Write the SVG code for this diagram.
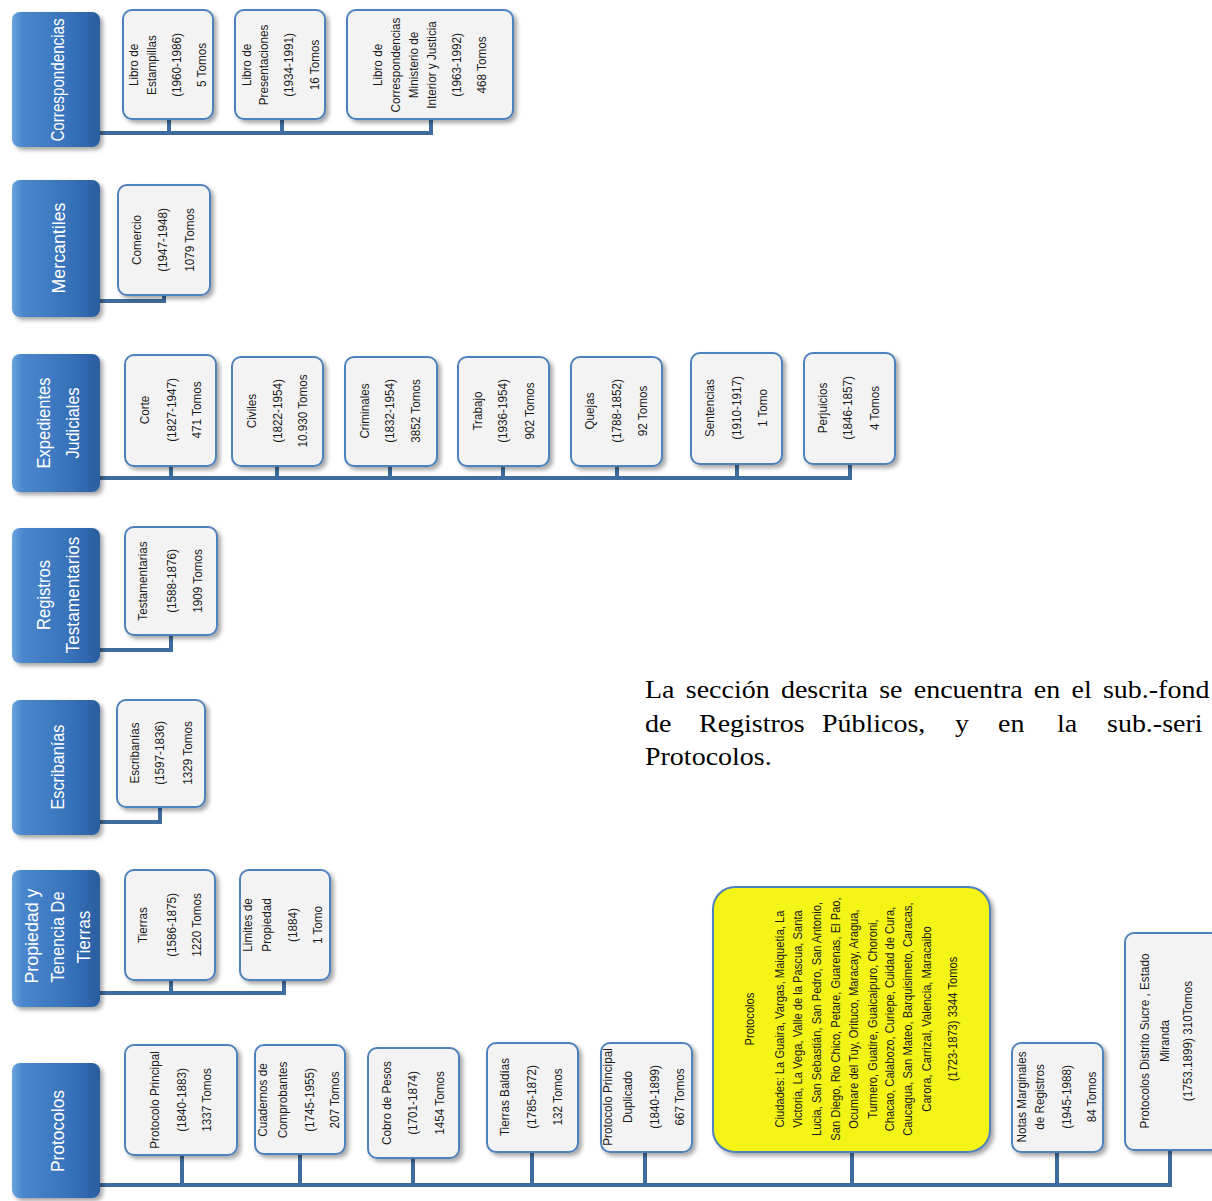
<svg xmlns="http://www.w3.org/2000/svg" width="1212" height="1201" viewBox="0 0 1212 1201">
<defs>
<linearGradient id="blue" x1="0" y1="0" x2="1" y2="0">
<stop offset="0" stop-color="#6aa3e0"/>
<stop offset="0.12" stop-color="#4b87cd"/>
<stop offset="0.7" stop-color="#3570b8"/>
<stop offset="1" stop-color="#2a5d9f"/>
</linearGradient>
<filter id="sh" x="-20%" y="-20%" width="140%" height="140%">
<feDropShadow dx="3" dy="3" stdDeviation="2" flood-color="#000" flood-opacity="0.35"/>
</filter>
</defs>
<style>
.main{fill:url(#blue);filter:url(#sh)}
.leaf{fill:#f3f3f3;stroke:#4f81bd;stroke-width:2;filter:url(#sh)}
.yel{fill:#f4f412;stroke:#4f81bd;stroke-width:2;filter:url(#sh)}
.con{fill:none;stroke:#3f6c9e;stroke-width:4}
.m{font-family:"Liberation Sans",Arial,sans-serif;font-size:19px;fill:#fff;text-anchor:middle}
.t{font-family:"Liberation Sans",Arial,sans-serif;font-size:13px;fill:#1a1a1a;text-anchor:middle}
.p{font-family:"Liberation Serif","Times New Roman",serif;font-size:25px;fill:#000}
</style>

<g id="connectors">
<path class="con" d="M100 133 H433 M169 119 V133 M282 119 V133 M431 119 V133"/>
<path class="con" d="M100 301 H164 V295"/>
<path class="con" d="M100 478 H852 M171 466 V478 M277 466 V478 M390 466 V478 M503 466 V478 M617 466 V478 M737 464 V478 M850 464 V478"/>
<path class="con" d="M100 650 H171 V635"/>
<path class="con" d="M100 822 H160 V807"/>
<path class="con" d="M100 993 H286 M171 980 V993 M284 980 V993"/>
<path class="con" d="M100 1185 H1172 M182 1155 V1185 M300 1154 V1185 M413 1158 V1185 M532 1152 V1185 M645 1152 V1185 M852 1152 V1185 M1057 1152 V1185 M1170 1150 V1185"/>
</g>

<g id="correspondencias">
<rect class="main" x="12" y="12" width="88" height="135" rx="8"/>
<text class="m" transform="translate(0,80) scale(1,0.8) rotate(-90)" x="0" y="64">Correspondencias</text>
</g>
<g id="libro-estampillas">
<rect class="leaf" x="123" y="10" width="90" height="109" rx="9"/>
<text class="t" transform="translate(0,65) scale(1,0.9) rotate(-90)"><tspan x="0" y="138">Libro de</tspan><tspan x="0" y="156">Estampillas</tspan><tspan x="0" y="181">(1960-1986)</tspan><tspan x="0" y="206">5 Tomos</tspan></text>
</g>
<g id="libro-presentaciones">
<rect class="leaf" x="235" y="10" width="90" height="109" rx="9"/>
<text class="t" transform="translate(0,65) scale(1,0.9) rotate(-90)"><tspan x="0" y="251">Libro de</tspan><tspan x="0" y="268">Presentaciones</tspan><tspan x="0" y="293">(1934-1991)</tspan><tspan x="0" y="319">16 Tomos</tspan></text>
</g>
<g id="libro-correspondencias">
<rect class="leaf" x="347" y="10" width="166" height="109" rx="9"/>
<text class="t" transform="translate(0,65) scale(1,0.9) rotate(-90)"><tspan x="0" y="382">Libro de</tspan><tspan x="0" y="400">Correspondencias</tspan><tspan x="0" y="418">Ministerio de</tspan><tspan x="0" y="436">Interior y Justicia</tspan><tspan x="0" y="461">(1963-1992)</tspan><tspan x="0" y="486">468 Tomos</tspan></text>
</g>

<g id="mercantiles">
<rect class="main" x="12" y="180" width="88" height="137" rx="8"/>
<text class="m" transform="rotate(-90)" x="-248" y="65" textLength="91" lengthAdjust="spacingAndGlyphs">Mercantiles</text>
</g>
<g id="comercio">
<rect class="leaf" x="118" y="185" width="92" height="110" rx="9"/>
<text class="t" transform="translate(0,240) scale(1,0.9) rotate(-90)"><tspan x="0" y="141">Comercio</tspan><tspan x="0" y="167">(1947-1948)</tspan><tspan x="0" y="194">1079 Tomos</tspan></text>
</g>

<g id="expedientes">
<rect class="main" x="12" y="354" width="88" height="138" rx="8"/>
<text class="m" transform="rotate(-90)" x="-423" y="50" textLength="91" lengthAdjust="spacingAndGlyphs">Expedientes</text>
<text class="m" transform="rotate(-90)" x="-423" y="79" textLength="71" lengthAdjust="spacingAndGlyphs">Judiciales</text>
</g>
<g id="corte">
<rect class="leaf" x="125" y="355" width="91" height="111" rx="9"/>
<text class="t" transform="translate(0,410) scale(1,0.9) rotate(-90)"><tspan x="0" y="149">Corte</tspan><tspan x="0" y="176">(1827-1947)</tspan><tspan x="0" y="201">471 Tomos</tspan></text>
</g>
<g id="civiles">
<rect class="leaf" x="232" y="357" width="91" height="109" rx="9"/>
<text class="t" transform="translate(0,411) scale(1,0.9) rotate(-90)"><tspan x="0" y="256">Civiles</tspan><tspan x="0" y="282">(1822-1954)</tspan><tspan x="0" y="307">10.930 Tomos</tspan></text>
</g>
<g id="criminales">
<rect class="leaf" x="345" y="357" width="92" height="109" rx="9"/>
<text class="t" transform="translate(0,411) scale(1,0.9) rotate(-90)"><tspan x="0" y="369">Criminales</tspan><tspan x="0" y="394">(1832-1954)</tspan><tspan x="0" y="420">3852 Tomos</tspan></text>
</g>
<g id="trabajo">
<rect class="leaf" x="458" y="357" width="91" height="109" rx="9"/>
<text class="t" transform="translate(0,411) scale(1,0.9) rotate(-90)"><tspan x="0" y="482">Trabajo</tspan><tspan x="0" y="507">(1936-1954)</tspan><tspan x="0" y="534">902 Tomos</tspan></text>
</g>
<g id="quejas">
<rect class="leaf" x="571" y="357" width="91" height="109" rx="9"/>
<text class="t" transform="translate(0,411) scale(1,0.9) rotate(-90)"><tspan x="0" y="594">Quejas</tspan><tspan x="0" y="621">(1788-1852)</tspan><tspan x="0" y="647">92 Tomos</tspan></text>
</g>
<g id="sentencias">
<rect class="leaf" x="691" y="353" width="91" height="111" rx="9"/>
<text class="t" transform="translate(0,408) scale(1,0.9) rotate(-90)"><tspan x="0" y="714">Sentencias</tspan><tspan x="0" y="741">(1910-1917)</tspan><tspan x="0" y="767">1 Tomo</tspan></text>
</g>
<g id="perjuicios">
<rect class="leaf" x="804" y="353" width="91" height="111" rx="9"/>
<text class="t" transform="translate(0,408) scale(1,0.9) rotate(-90)"><tspan x="0" y="827">Perjuicios</tspan><tspan x="0" y="852">(1846-1857)</tspan><tspan x="0" y="879">4 Tomos</tspan></text>
</g>

<g id="registros-testamentarios">
<rect class="main" x="12" y="528" width="88" height="135" rx="8"/>
<text class="m" transform="rotate(-90)" x="-595" y="50" textLength="70" lengthAdjust="spacingAndGlyphs">Registros</text>
<text class="m" transform="rotate(-90)" x="-595" y="79" textLength="117" lengthAdjust="spacingAndGlyphs">Testamentarios</text>
</g>
<g id="testamentarias">
<rect class="leaf" x="125" y="527" width="92" height="108" rx="9"/>
<text class="t" transform="translate(0,581) scale(1,0.9) rotate(-90)"><tspan x="0" y="147">Testamentarias</tspan><tspan x="0" y="176">(1588-1876)</tspan><tspan x="0" y="202">1909 Tomos</tspan></text>
</g>

<g id="escribanias-main">
<rect class="main" x="12" y="700" width="88" height="135" rx="8"/>
<text class="m" transform="rotate(-90)" x="-767" y="64" textLength="85" lengthAdjust="spacingAndGlyphs">Escribanías</text>
</g>
<g id="escribanias">
<rect class="leaf" x="117" y="700" width="88" height="107" rx="9"/>
<text class="t" transform="translate(0,753) scale(1,0.9) rotate(-90)"><tspan x="0" y="139">Escribanías</tspan><tspan x="0" y="164">(1597-1836)</tspan><tspan x="0" y="192">1329 Tomos</tspan></text>
</g>

<g id="propiedad">
<rect class="main" x="12" y="870" width="88" height="137" rx="8"/>
<text class="m" transform="rotate(-90)" x="-936" y="38" textLength="95" lengthAdjust="spacingAndGlyphs">Propiedad y</text>
<text class="m" transform="rotate(-90)" x="-937" y="64" textLength="91" lengthAdjust="spacingAndGlyphs">Tenencia De</text>
<text class="m" transform="rotate(-90)" x="-937" y="90" textLength="53" lengthAdjust="spacingAndGlyphs">Tierras</text>
</g>
<g id="tierras">
<rect class="leaf" x="125" y="870" width="90" height="110" rx="9"/>
<text class="t" transform="translate(0,925) scale(1,0.9) rotate(-90)"><tspan x="0" y="147">Tierras</tspan><tspan x="0" y="176">(1586-1875)</tspan><tspan x="0" y="201">1220 Tomos</tspan></text>
</g>
<g id="limites">
<rect class="leaf" x="240" y="870" width="90" height="110" rx="9"/>
<text class="t" transform="translate(0,925) scale(1,0.9) rotate(-90)"><tspan x="0" y="252">Limites de</tspan><tspan x="0" y="271">Propiedad</tspan><tspan x="0" y="297">(1884)</tspan><tspan x="0" y="322">1 Tomo</tspan></text>
</g>

<g id="protocolos-main">
<rect class="main" x="12" y="1063" width="88" height="135" rx="8"/>
<text class="m" transform="rotate(-90)" x="-1131" y="64" textLength="82" lengthAdjust="spacingAndGlyphs">Protocolos</text>
</g>
<g id="protocolo-principal">
<rect class="leaf" x="125" y="1045" width="112" height="110" rx="9"/>
<text class="t" transform="translate(0,1100) scale(1,0.9) rotate(-90)"><tspan x="0" y="159">Protocolo Principal</tspan><tspan x="0" y="186">(1840-1883)</tspan><tspan x="0" y="211">1337 Tomos</tspan></text>
</g>
<g id="cuadernos">
<rect class="leaf" x="255" y="1045" width="90" height="109" rx="9"/>
<text class="t" transform="translate(0,1100) scale(1,0.9) rotate(-90)"><tspan x="0" y="267">Cuadernos de</tspan><tspan x="0" y="287">Comprobantes</tspan><tspan x="0" y="314">(1745-1955)</tspan><tspan x="0" y="339">207 Tomos</tspan></text>
</g>
<g id="cobro">
<rect class="leaf" x="368" y="1048" width="91" height="110" rx="9"/>
<text class="t" transform="translate(0,1103) scale(1,0.9) rotate(-90)"><tspan x="0" y="391">Cobro de Pesos</tspan><tspan x="0" y="417">(1701-1874)</tspan><tspan x="0" y="444">1454 Tomos</tspan></text>
</g>
<g id="tierras-baldias">
<rect class="leaf" x="487" y="1043" width="91" height="109" rx="9"/>
<text class="t" transform="translate(0,1097) scale(1,0.9) rotate(-90)"><tspan x="0" y="509">Tierras Baldías</tspan><tspan x="0" y="536">(1785-1872)</tspan><tspan x="0" y="562">132 Tomos</tspan></text>
</g>
<g id="protocolo-duplicado">
<rect class="leaf" x="601" y="1043" width="91" height="109" rx="9"/>
<text class="t" transform="translate(0,1097) scale(1,0.9) rotate(-90)"><tspan x="0" y="612">Protocolo Principal</tspan><tspan x="0" y="632">Duplicado</tspan><tspan x="0" y="659">(1840-1899)</tspan><tspan x="0" y="684">667 Tomos</tspan></text>
</g>
<g id="protocolos-ciudades">
<rect class="yel" x="713" y="887" width="277" height="265" rx="22"/>
<text class="t" transform="translate(0,1019) scale(1,0.86) rotate(-90)"><tspan x="0" y="754">Protocolos</tspan><tspan x="0" y="784">Ciudades: La Guaira, Vargas, Maiquetía, La</tspan><tspan x="0" y="802">Victoria, La Vega, Valle de la Pascua, Santa</tspan><tspan x="0" y="821">Lucia, San Sebastián, San Pedro, San Antonio,</tspan><tspan x="0" y="840">San Diego, Rio Chico, Petare, Guarenas, El Pao,</tspan><tspan x="0" y="858">Ocumare del Tuy, Orituco, Maracay, Aragua,</tspan><tspan x="0" y="877">Turmero, Guatire, Guaicaipuro, Choroni,</tspan><tspan x="0" y="894">Chacao, Calabozo, Curiepe, Cuidad de Cura,</tspan><tspan x="0" y="912">Caucagua, San Mateo, Barquisimeto, Caracas,</tspan><tspan x="0" y="931">Carora, Carrizal, Valencia, Maracaibo</tspan><tspan x="0" y="957">(1723-1873) 3344 Tomos</tspan></text>
</g>
<g id="notas-marginales">
<rect class="leaf" x="1012" y="1043" width="91" height="109" rx="9"/>
<text class="t" transform="translate(0,1097) scale(1,0.9) rotate(-90)"><tspan x="0" y="1026">Notas Marginales</tspan><tspan x="0" y="1044">de Registros</tspan><tspan x="0" y="1071">(1945-1988)</tspan><tspan x="0" y="1096">84 Tomos</tspan></text>
</g>
<g id="protocolos-distrito-sucre">
<rect class="leaf" x="1125" y="933" width="95" height="217" rx="9"/>
<text class="t" transform="translate(0,1041) scale(1,0.9) rotate(-90)"><tspan x="0" y="1149">Protocolos Distrito Sucre , Estado</tspan><tspan x="0" y="1169">Miranda</tspan><tspan x="0" y="1192">(1753.1899) 310Tomos</tspan></text>
</g>

<g id="nota" transform="translate(645,0) scale(1.12,1) translate(-645,0)">
<text class="p" x="645" y="698" word-spacing="3.8">La sección descrita se encuentra en el sub.-fond</text>
<text class="p" y="732"><tspan x="645">de</tspan><tspan x="693.2">Registros</tspan><tspan x="803">Públicos,</tspan><tspan x="921.8">y</tspan><tspan x="960.2">en</tspan><tspan x="1012.9">la</tspan><tspan x="1057.5">sub.-seri</tspan></text>
<text class="p" x="645" y="765">Protocolos.</text>
</g>
</svg>
